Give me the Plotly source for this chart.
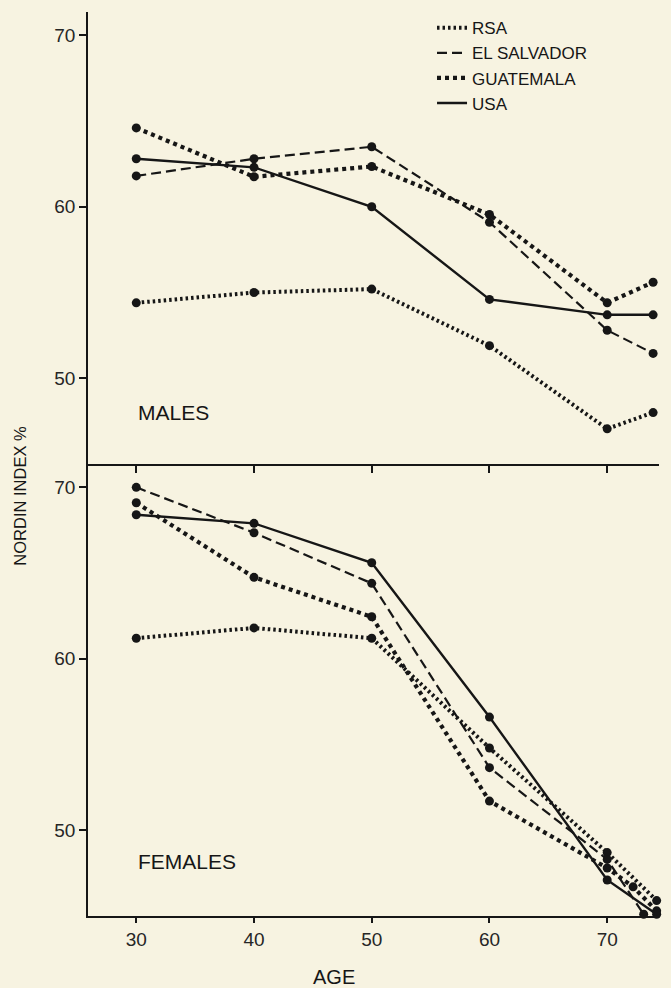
import plotly.graph_objects as go
from plotly.subplots import make_subplots

series_names = ["RSA", "EL SALVADOR", "GUATEMALA", "USA"]

# MALES (top panel)
male_ages = [30, 40, 50, 60, 70, 73.9]
male_rsa = [54.4, 55.0, 55.2, 51.9, 47.05, 48.0]
male_elsalvador = [61.8, 62.8, 63.5, 59.1, 52.8, 51.45]
male_guatemala = [64.6, 61.75, 62.35, 59.55, 54.4, 55.6]
male_usa = [62.8, 62.3, 60.0, 54.6, 53.7, 53.7]

# FEMALES (bottom panel)
female_rsa_ages = [30, 40, 50, 60, 70, 74.2]
female_rsa = [61.2, 61.8, 61.2, 54.8, 48.7, 45.9]
female_elsalvador_ages = [30, 40, 50, 60, 70, 73.1]
female_elsalvador = [70.0, 67.35, 64.4, 53.65, 48.3, 45.1]
female_guatemala_ages = [30, 40, 50, 60, 70, 72.2, 74.2]
female_guatemala = [69.1, 64.75, 62.45, 51.7, 47.8, 46.7, 45.3]
female_usa_ages = [30, 40, 50, 60, 70, 74.2]
female_usa = [68.4, 67.9, 65.6, 56.6, 47.1, 45.1]

x_ticks = [30, 40, 50, 60, 70]
y_ticks = [50, 60, 70]

ink = "#161616"
paper = "#f7f3e1"
font_family = "Liberation Sans, Arial, sans-serif"
styles = {
    "RSA": dict(dash="2.5px,3px", width=4.0),
    "EL SALVADOR": dict(dash="10px,5px", width=2.2),
    "GUATEMALA": dict(dash="4px,4px", width=4.2),
    "USA": dict(dash="solid", width=2.4),
}

fig = make_subplots(rows=2, cols=1, shared_xaxes=True, vertical_spacing=0)

male_data = [(male_ages, male_rsa), (male_ages, male_elsalvador),
             (male_ages, male_guatemala), (male_ages, male_usa)]
female_data = [(female_rsa_ages, female_rsa), (female_elsalvador_ages, female_elsalvador),
               (female_guatemala_ages, female_guatemala), (female_usa_ages, female_usa)]

for row, data, show in [(1, male_data, True), (2, female_data, False)]:
    for name, (xs, ys) in zip(series_names, data):
        st = styles[name]
        fig.add_trace(go.Scatter(x=xs, y=ys, mode="lines", name=name,
                                 legendgroup=name, showlegend=show,
                                 line=dict(color=ink, width=st["width"], dash=st["dash"])),
                      row=row, col=1)
        fig.add_trace(go.Scatter(x=xs, y=ys, mode="markers", name=name,
                                 legendgroup=name, showlegend=False, cliponaxis=False,
                                 marker=dict(color=ink, size=9)),
                      row=row, col=1)

axis_common = dict(showline=True, linecolor=ink, linewidth=1.6, showgrid=False,
                   zeroline=False, ticks="outside", tickcolor=ink, tickwidth=1.6,
                   tickfont=dict(family=font_family, size=19, color="#262626"))

fig.update_xaxes(range=[25.9, 74.4], tickvals=x_ticks, ticklen=7, **axis_common)
fig.update_xaxes(showticklabels=False, row=1, col=1)
fig.update_xaxes(ticklen=5, row=2, col=1)
fig.update_yaxes(range=[45, 71.36], tickvals=y_ticks, ticklen=7, **axis_common)
fig.update_yaxes(domain=[0.5, 1.0], row=1, col=1)
fig.update_yaxes(domain=[0.0, 0.5], row=2, col=1)

fig.add_annotation(x=30, y=48.0, xref="x", yref="y", text="MALES", showarrow=False,
                   xanchor="left", yanchor="middle", font=dict(family=font_family, size=21, color=ink))
fig.add_annotation(x=30, y=48.2, xref="x2", yref="y2", text="FEMALES", showarrow=False,
                   xanchor="left", yanchor="middle", font=dict(family=font_family, size=21, color=ink))
fig.add_annotation(x=-0.119, y=0.465, xref="paper", yref="paper", text="NORDIN INDEX %",
                   textangle=-90, showarrow=False, xanchor="center", yanchor="middle",
                   font=dict(family=font_family, size=16.5, color=ink))
fig.add_annotation(x=0.4308, y=-0.0673, xref="paper", yref="paper", text="AGE",
                   showarrow=False, xanchor="center", yanchor="middle",
                   font=dict(family=font_family, size=20, color=ink))

fig.update_layout(
    width=671, height=988,
    margin=dict(l=88, r=12, t=10, b=72),
    paper_bgcolor=paper, plot_bgcolor=paper,
    showlegend=True,
    legend=dict(x=0.6025, y=1.002, xanchor="left", yanchor="top",
                bgcolor="rgba(0,0,0,0)", font=dict(family=font_family, size=17, color=ink),
                itemwidth=30, tracegroupgap=0),
)

fig.write_html("out.html", config={"displayModeBar": False},
               post_script="document.body.style.margin='0';document.body.style.background='%s';" % paper)
